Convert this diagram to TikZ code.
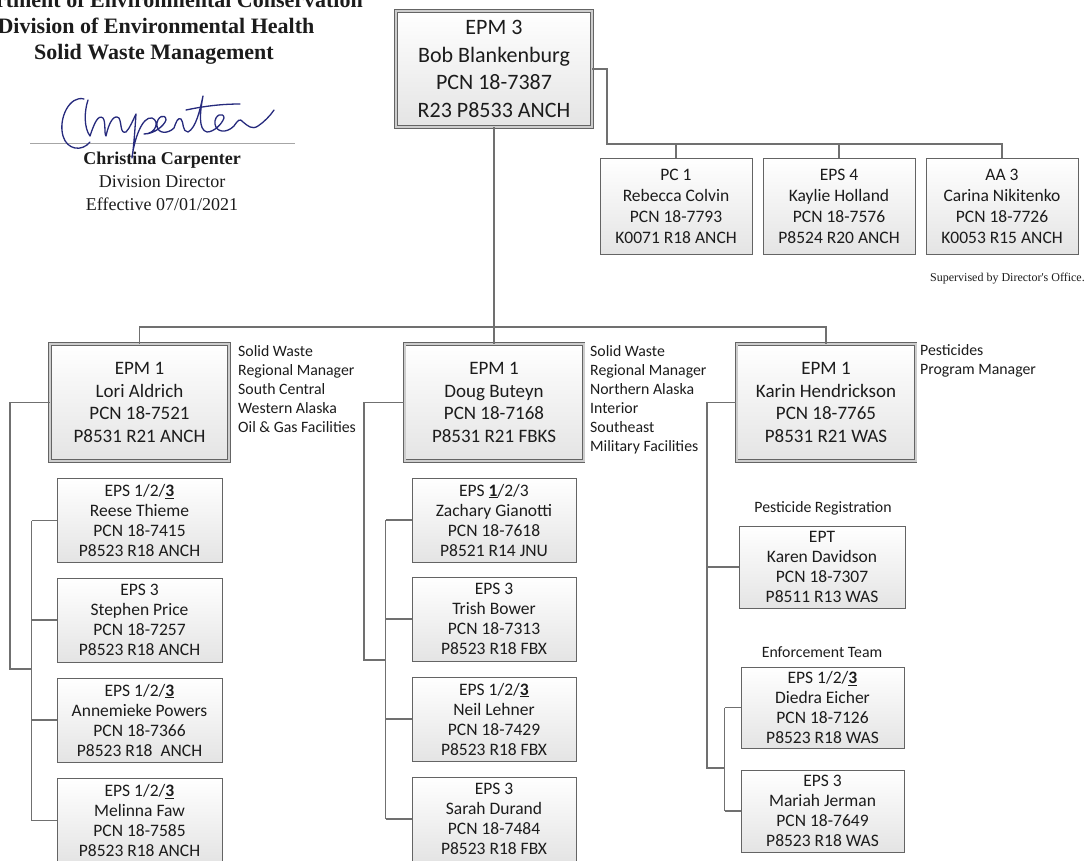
\documentclass[tikz,border=0pt]{standalone}
\usepackage{fontspec}
\setmainfont{Carlito}
\newfontfamily\titleserif{Liberation Serif}
\usetikzlibrary{positioning}
\definecolor{linegray}{RGB}{112,112,112}
\definecolor{framegray}{RGB}{100,100,100}
\definecolor{gapgray}{RGB}{205,205,205}
\definecolor{boxbot}{RGB}{228,228,228}
\definecolor{inkblue}{RGB}{38,42,125}
\definecolor{txt}{RGB}{28,28,28}
\newcommand{\ulthree}{\underline{\textbf{3}}}
\newcommand{\ulone}{\underline{\textbf{1}}}

\begin{document}
\begin{tikzpicture}[x=1pt, y=-1pt,
  conn/.style={draw=linegray, line width=1.1pt},
  box/.style={draw=framegray, line width=0.9pt, top color=white, bottom color=boxbot,
    align=center, inner sep=0pt, text=txt},
  staff/.style={box, minimum width=165pt, minimum height=84pt, font=\fontsize{17.5}{20}\selectfont},
  mgr/.style={box, double=gapgray, double distance=2pt, line width=0.8pt,
    minimum width=179pt, minimum height=117pt, font=\fontsize{19}{22.5}\selectfont},
  note/.style={anchor=north west, align=left, inner sep=0pt, text=txt, font=\fontsize{15.8}{19}\selectfont},
  lbl/.style={inner sep=0pt, text=txt, font=\fontsize{15.8}{19}\selectfont},
  head/.style={anchor=base, inner sep=0pt, text=txt, font=\titleserif\bfseries\fontsize{22}{26}\selectfont},
  sign/.style={anchor=base, inner sep=0pt, text=txt, font=\titleserif\fontsize{18}{22}\selectfont},
  sig/.style={draw=inkblue, line width=1.3pt, line cap=round, line join=round},
]
\useasboundingbox (0,0) rectangle (1089,860);
\fill[white] (0,0) rectangle (1089,860);

% heading and signature
\node[head] (dept) at (155,7) {Department of Environmental Conservation};
\node[head] (deh) at (156,33) {Division of Environmental Health};
\node[head] (swm) at (154,59) {Solid Waste Management};
\draw[gray!70, line width=0.8pt] (30,143) -- (295,143);
\node[sign, font=\titleserif\bfseries\fontsize{18}{22}\selectfont] (director) at (162,164) {Christina Carpenter};
\node[sign] (title) at (162,187) {Division Director};
\node[sign] (effective) at (162,210) {Effective 07/01/2021};
\draw[sig] (84,99) .. controls (70,95) and (58,118) .. (63,136)
  .. controls (67,150) and (82,152) .. (90,142);
\draw[sig] (88,100) .. controls (84,112) and (84,128) .. (90,136)
  .. controls (94,124) and (98,114) .. (103,118)
  .. controls (106,122) and (104,134) .. (106,136)
  .. controls (109,122) and (114,114) .. (119,118)
  .. controls (122,124) and (120,134) .. (126,132)
  .. controls (130,128) and (133,120) .. (136,114)
  .. controls (135,128) and (134,145) .. (132,158)
  .. controls (134,140) and (142,116) .. (152,118)
  .. controls (160,121) and (156,134) .. (144,134)
  .. controls (154,134) and (164,126) .. (166,120)
  .. controls (166,113) and (156,116) .. (157,126)
  .. controls (158,134) and (168,134) .. (174,128)
  .. controls (176,122) and (178,117) .. (181,119)
  .. controls (184,122) and (182,132) .. (188,132)
  .. controls (196,128) and (200,110) .. (203,96)
  .. controls (200,112) and (198,130) .. (207,132)
  .. controls (214,132) and (222,124) .. (224,118)
  .. controls (224,112) and (214,114) .. (215,124)
  .. controls (216,132) and (226,134) .. (234,126)
  .. controls (238,120) and (240,118) .. (243,122)
  .. controls (248,126) and (252,130) .. (258,126)
  .. controls (264,122) and (270,116) .. (274,110);
\draw[sig] (186,110) .. controls (205,106) and (222,104) .. (240,104);

% top of the section
\node[mgr, minimum width=196pt, minimum height=116pt, font=\fontsize{22}{27.5}\selectfont] (bob) at (494,69)
  {EPM 3\\Bob Blankenburg\\PCN 18-7387\\R23 P8533 ANCH};
\node[staff, minimum width=152pt, minimum height=96pt, font=\fontsize{17.5}{21}\selectfont] (colvin) at (676,206)
  {PC 1\\Rebecca Colvin\\PCN 18-7793\\K0071 R18 ANCH};
\node[staff, minimum width=152pt, minimum height=96pt, font=\fontsize{17.5}{21}\selectfont] (holland) at (839,206)
  {EPS 4\\Kaylie Holland\\PCN 18-7576\\P8524 R20 ANCH};
\node[staff, minimum width=152pt, minimum height=96pt, font=\fontsize{17.5}{21}\selectfont] (nikitenko) at (1002,206)
  {AA 3\\Carina Nikitenko\\PCN 18-7726\\K0053 R15 ANCH};
\node[anchor=base east, inner sep=0pt, text=txt, font=\titleserif\fontsize{12}{14}\selectfont] (supnote) at (1085,281)
  {Supervised by Director's Office.};

% managers
\node[mgr] (aldrich) at (139.5,402.5) {EPM 1\\Lori Aldrich\\PCN 18-7521\\P8531 R21 ANCH};
\node[mgr] (buteyn) at (494,402.5) {EPM 1\\Doug Buteyn\\PCN 18-7168\\P8531 R21 FBKS};
\node[mgr] (hendrickson) at (826,402.5) {EPM 1\\Karin Hendrickson\\PCN 18-7765\\P8531 R21 WAS};
\node[note] (aldrichnote) at (238,345) {Solid Waste\\Regional Manager\\South Central\\Western Alaska\\Oil \& Gas Facilities};
\node[note] (buteynnote) at (590,345) {Solid Waste\\Regional Manager\\Northern Alaska\\Interior\\Southeast\\Military Facilities};
\node[note] (hendricksonnote) at (920,344) {Pesticides\\Program Manager};

% south central / western
\node[staff] (thieme) at (139.5,520.5) {EPS 1/2/\ulthree\\Reese Thieme\\PCN 18-7415\\P8523 R18 ANCH};
\node[staff] (price) at (139.5,620) {EPS 3\\Stephen Price\\PCN 18-7257\\P8523 R18 ANCH};
\node[staff] (powers) at (139.5,720) {EPS 1/2/\ulthree\\Annemieke Powers\\PCN 18-7366\\P8523 R18\ \ ANCH};
\node[staff] (faw) at (139.5,820.5) {EPS 1/2/\ulthree\\Melinna Faw\\PCN 18-7585\\P8523 R18 ANCH};

% northern
\node[staff, minimum width=164pt] (gianotti) at (494,520) {EPS \ulone/2/3\\Zachary Gianotti\\PCN 18-7618\\P8521 R14 JNU};
\node[staff, minimum width=164pt] (bower) at (494,619) {EPS 3\\Trish Bower\\PCN 18-7313\\P8523 R18 FBX};
\node[staff, minimum width=164pt] (lehner) at (494,719) {EPS 1/2/\ulthree\\Neil Lehner\\PCN 18-7429\\P8523 R18 FBX};
\node[staff, minimum width=164pt] (durand) at (494,819) {EPS 3\\Sarah Durand\\PCN 18-7484\\P8523 R18 FBX};

% pesticides
\node[lbl] (regtitle) at (823,508) {Pesticide Registration};
\node[staff, minimum width=166pt, minimum height=82pt] (davidson) at (822,567) {EPT\\Karen Davidson\\PCN 18-7307\\P8511 R13 WAS};
\node[lbl] (enftitle) at (822,652) {Enforcement Team};
\node[staff, minimum width=163pt, minimum height=81pt] (eicher) at (822.5,707.5) {EPS 1/2/\ulthree\\Diedra Eicher\\PCN 18-7126\\P8523 R18 WAS};
\node[staff, minimum width=163pt, minimum height=82pt] (jerman) at (822.5,811) {EPS 3\\Mariah Jerman\\PCN 18-7649\\P8523 R18 WAS};

% connectors
\coordinate (bus) at (494,327);
\coordinate (sbus) at (607,144);
\draw[conn] (bob.south) -- (buteyn.north);
\draw[conn] (aldrich.north) |- (bus) -| (hendrickson.north);
\draw[conn] (bob.east) -| (sbus) -| (nikitenko.north);
\draw[conn] (colvin.north) -- (colvin.north |- sbus);
\draw[conn] (holland.north) -- (holland.north |- sbus);

\coordinate (lbend) at (10,669);
\coordinate (lspine) at (32,669);
\draw[conn] (aldrich.west) -| (lbend) -- (lspine);
\draw[conn] ([xshift=-25pt]thieme.west) -- ([xshift=-25pt]faw.west);
\foreach \n in {thieme,price,powers,faw}
  \draw[conn] (\n.west) -- ++(-25,0);

\coordinate (mbend) at (364,660);
\coordinate (mspine) at (386,660);
\draw[conn] (buteyn.west) -| (mbend) -- (mspine);
\draw[conn] ([xshift=-26pt]gianotti.west) -- ([xshift=-26pt]durand.west);
\foreach \n in {gianotti,bower,lehner,durand}
  \draw[conn] (\n.west) -- ++(-26,0);

\coordinate (rbend) at (707,768);
\coordinate (rspine) at (725,768);
\draw[conn] (hendrickson.west) -| (rbend) -- (rspine);
\draw[conn] (davidson.west) -- (davidson.west -| rbend);
\draw[conn] ([xshift=-16pt]eicher.west) -- ([xshift=-16pt]jerman.west);
\foreach \n in {eicher,jerman}
  \draw[conn] (\n.west) -- ++(-16,0);
\end{tikzpicture}
\end{document}
